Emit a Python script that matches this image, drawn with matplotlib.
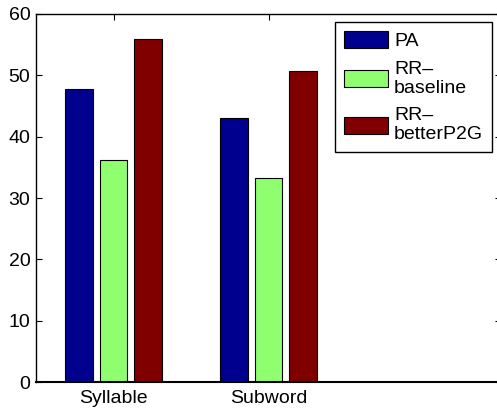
import numpy as np
import matplotlib
matplotlib.use("Agg")
import matplotlib.pyplot as plt

categories = ["Syllable", "Subword"]
series_names = ["PA", "RR\u2013\nbaseline", "RR\u2013\nbetterP2G"]
pa = [47.8, 43.0]
rr_baseline = [36.2, 33.3]
rr_better = [55.9, 50.7]
yticks = [0, 10, 20, 30, 40, 50, 60]

colors = ["#00008F", "#8FFF70", "#800000"]

plt.rcParams["font.family"] = ["Liberation Sans", "DejaVu Sans"]
plt.rcParams["font.size"] = 14

fig = plt.figure(figsize=(4.97, 4.11), dpi=100)
ax = fig.add_axes([36 / 497, 29 / 411, 465 / 497, 368 / 411])

x = np.arange(1, len(categories) + 1)
offsets = [-0.224, 0.0, 0.222]
width = 0.18
for vals, off, col, name in zip([pa, rr_baseline, rr_better], offsets, colors, series_names):
    ax.bar(x + off, vals, width=width, color=col, edgecolor="black",
           linewidth=0.8, label=name, zorder=2)

ax.set_xlim(0.5, 3.5)
ax.set_ylim(0, 60)
ax.set_xticks(x)
ax.set_xticklabels(categories)
ax.set_yticks(yticks)
ax.tick_params(direction="in", top=True, right=True, length=4, width=0.8,
               colors="black", labelsize=14, pad=4)
ax.tick_params(axis="x", pad=6)
for s in ax.spines.values():
    s.set_linewidth(1.0)
ax.spines["bottom"].set_linewidth(1.5)

leg = ax.legend(loc="upper right", bbox_to_anchor=(492 / 497, 1 - 22 / 411),
                bbox_transform=fig.transFigure, borderaxespad=0,
                fancybox=False, edgecolor="black", framealpha=1,
                handlelength=2.3, handleheight=1.0, handletextpad=0.3,
                labelspacing=0.55, borderpad=0.45, fontsize=14)
leg.get_frame().set_linewidth(1.0)
for t in leg.get_texts():
    t.set_linespacing(1.15)

fig.savefig("out.png", dpi=100)
